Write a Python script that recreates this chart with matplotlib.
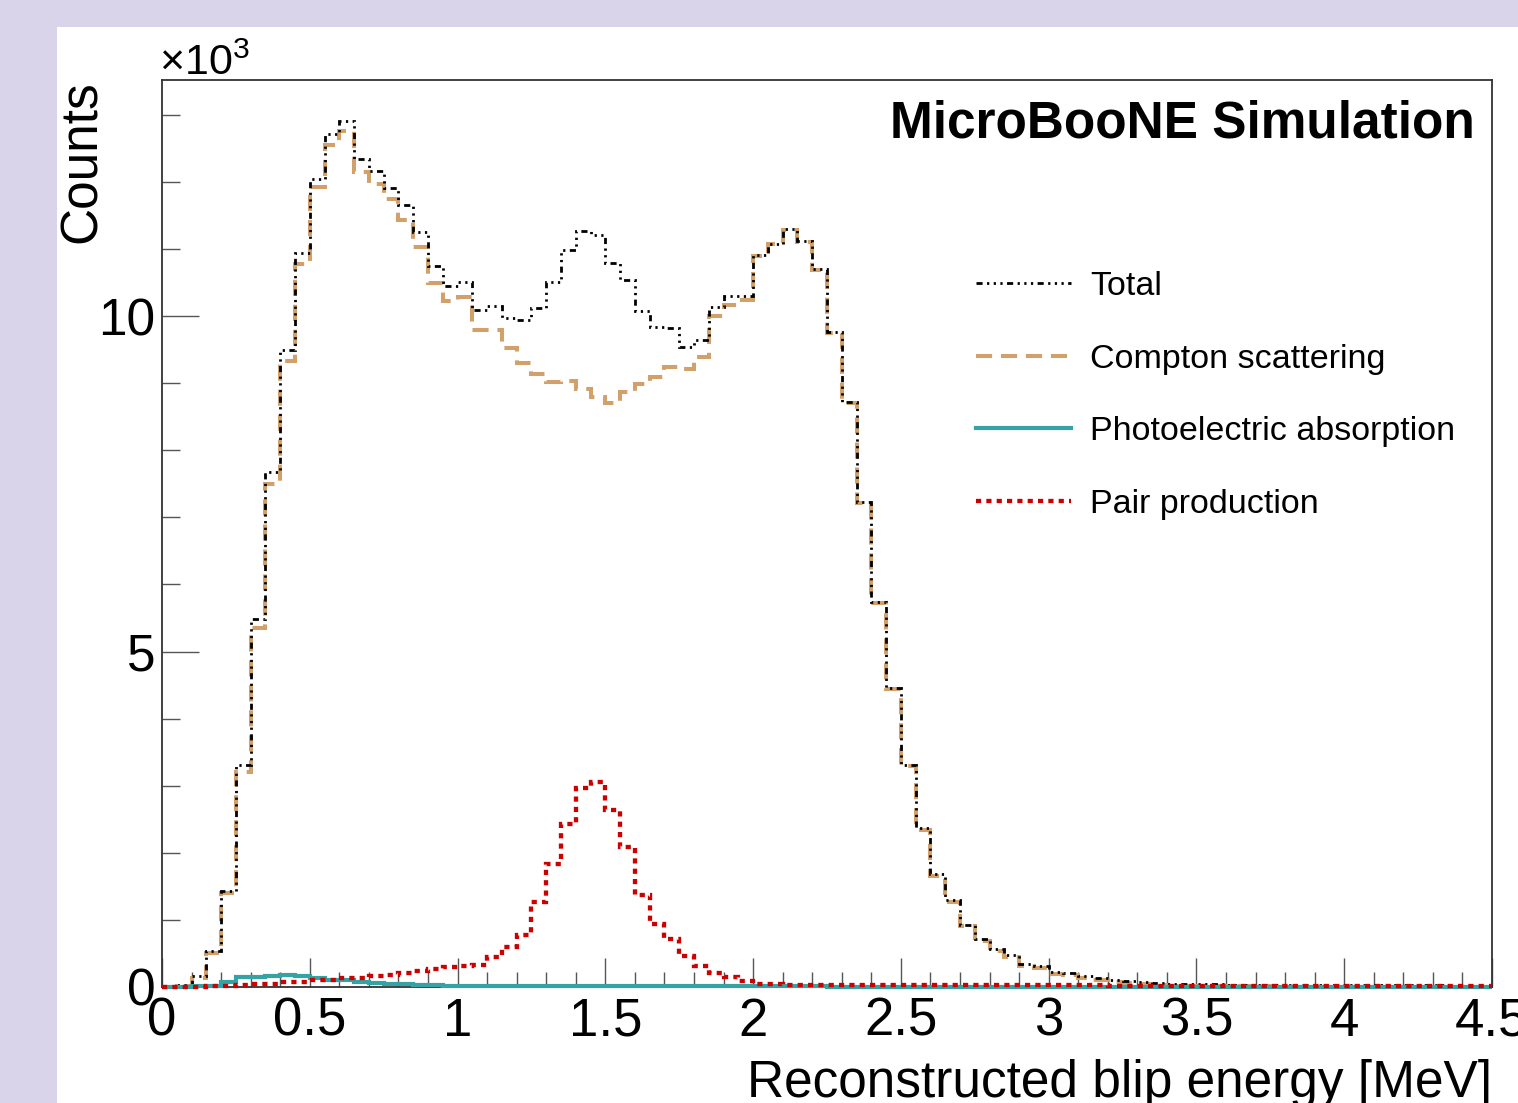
import numpy as np
import matplotlib
matplotlib.use("Agg")
import matplotlib.pyplot as plt
from matplotlib.patches import Rectangle
from matplotlib.lines import Line2D
from matplotlib.ticker import MultipleLocator, FixedLocator, FixedFormatter

plt.rcParams['font.family'] = ['Liberation Sans', 'DejaVu Sans']
plt.rcParams['mathtext.fontset'] = 'custom'
plt.rcParams['mathtext.rm'] = 'Liberation Sans'
plt.rcParams['mathtext.it'] = 'Liberation Sans:italic'
plt.rcParams['mathtext.bf'] = 'Liberation Sans:bold'

# ---------------- data (counts in units of 10^3, 0.05 MeV bins from 0 to 4.5 MeV) -------------
bin_edges = np.linspace(0.0, 4.5, 91)

total = [
    0.00, 0.03, 0.16, 0.53, 1.43, 3.31, 5.49, 7.67, 9.49, 10.94,
    12.05, 12.72, 12.91, 12.34, 12.16, 11.91, 11.65, 11.25, 10.74, 10.45,
    10.51, 10.09, 10.15, 9.97, 9.94, 10.12, 10.51, 10.98, 11.27, 11.21,
    10.79, 10.54, 10.07, 9.84, 9.82, 9.54, 9.65, 10.14, 10.30, 10.30,
    10.91, 11.08, 11.30, 11.12, 10.70, 9.76, 8.72, 7.23, 5.74, 4.46,
    3.31, 2.37, 1.69, 1.29, 0.93, 0.72, 0.57, 0.47, 0.34, 0.31,
    0.23, 0.21, 0.17, 0.14, 0.11, 0.085, 0.07, 0.06, 0.05, 0.045,
    0.04, 0.04, 0.035, 0.035, 0.033, 0.032, 0.03, 0.03, 0.03, 0.028,
    0.028, 0.027, 0.026, 0.025, 0.025, 0.024, 0.023, 0.022, 0.022, 0.021,
]

compton = [
    0.00, 0.02, 0.13, 0.50, 1.40, 3.20, 5.35, 7.50, 9.33, 10.77,
    11.93, 12.55, 12.76, 12.15, 11.97, 11.74, 11.43, 11.03, 10.50, 10.22,
    10.28, 9.80, 9.79, 9.52, 9.30, 9.14, 9.02, 9.04, 8.92, 8.79,
    8.70, 8.87, 8.99, 9.10, 9.24, 9.21, 9.39, 10.00, 10.16, 10.24,
    10.89, 11.08, 11.29, 11.11, 10.69, 9.75, 8.71, 7.21, 5.72, 4.44,
    3.29, 2.34, 1.66, 1.27, 0.91, 0.69, 0.54, 0.44, 0.31, 0.28,
    0.20, 0.18, 0.14, 0.11, 0.08, 0.055, 0.04, 0.03, 0.02, 0.018,
    0.015, 0.012, 0.010, 0.010, 0.008, 0.008, 0.006, 0.006, 0.005, 0.005,
    0.004, 0.004, 0.003, 0.003, 0.003, 0.002, 0.002, 0.002, 0.002, 0.001,
]

photoelectric = [
    0.00, 0.005, 0.01, 0.02, 0.08, 0.15, 0.15, 0.17, 0.18, 0.17,
    0.13, 0.11, 0.10, 0.08, 0.06, 0.05, 0.04, 0.03, 0.03, 0.02,
    0.02, 0.015, 0.015, 0.015, 0.012, 0.012, 0.012, 0.010, 0.010, 0.010,
    0.010, 0.010, 0.010, 0.010, 0.010, 0.010, 0.010, 0.010, 0.010, 0.010,
    0.010, 0.008, 0.008, 0.008, 0.008, 0.007, 0.006, 0.005, 0.005, 0.004,
    0.004, 0.003, 0.003, 0.003, 0.002, 0.002, 0.002, 0.002, 0.001, 0.001,
    0.001, 0.001, 0.001, 0.001, 0.001, 0.000, 0.000, 0.000, 0.000, 0.000,
    0.000, 0.000, 0.000, 0.000, 0.000, 0.000, 0.000, 0.000, 0.000, 0.000,
    0.000, 0.000, 0.000, 0.000, 0.000, 0.000, 0.000, 0.000, 0.000, 0.000,
]

pair_production = [
    0.00, 0.00, 0.005, 0.01, 0.015, 0.03, 0.04, 0.05, 0.07, 0.08,
    0.10, 0.11, 0.13, 0.14, 0.16, 0.18, 0.21, 0.24, 0.27, 0.30,
    0.32, 0.33, 0.45, 0.60, 0.78, 1.27, 1.84, 2.43, 2.97, 3.06,
    2.64, 2.08, 1.37, 0.94, 0.71, 0.46, 0.32, 0.21, 0.15, 0.09,
    0.05, 0.04, 0.035, 0.03, 0.03, 0.03, 0.03, 0.03, 0.03, 0.03,
    0.03, 0.028, 0.028, 0.027, 0.027, 0.026, 0.026, 0.025, 0.025, 0.025,
    0.024, 0.024, 0.023, 0.023, 0.022, 0.022, 0.022, 0.021, 0.021, 0.021,
    0.020, 0.020, 0.020, 0.020, 0.020, 0.020, 0.020, 0.020, 0.020, 0.020,
    0.020, 0.020, 0.020, 0.020, 0.020, 0.020, 0.020, 0.020, 0.020, 0.020,
]

series_labels = ["Total", "Compton scattering", "Photoelectric absorption", "Pair production"]
x_tick_values = [0, 0.5, 1, 1.5, 2, 2.5, 3, 3.5, 4, 4.5]
x_tick_labels = ["0", "0.5", "1", "1.5", "2", "2.5", "3", "3.5", "4", "4.5"]
y_tick_values = [0, 5, 10]
y_tick_labels = ["0", "5", "10"]

# ---------------- figure ----------------
W, H = 1518, 1103
fig = plt.figure(figsize=(W / 100, H / 100), dpi=100)
fig.patch.set_facecolor("#dad4ea")
fig.add_artist(Rectangle((57 / W, 0), 1 - 57 / W, 1 - 27 / H, transform=fig.transFigure,
                         facecolor="white", edgecolor="none", zorder=0))

ax = fig.add_axes([162 / W, 1 - 987 / H, (1492 - 162) / W, (987 - 80) / H])
ax.set_facecolor("white")

c_tan = "#d2a06b"
c_teal = "#35a3a3"
c_red = "#cc0000"

ls_total = (0, (2.2, 1.6, 0.8, 1.6, 0.8, 1.6, 0.8, 1.6))
ls_compton = (0, (4.0, 2.2))
ls_pair = (0, (1.2, 1.2))

ax.stairs(compton, bin_edges, baseline=None, color=c_tan, lw=2.9,
          linestyle=ls_compton, zorder=3, label=series_labels[1], clip_on=False)
ax.stairs(total, bin_edges, baseline=None, color="black", lw=2.0,
          linestyle=ls_total, zorder=4, label=series_labels[0], clip_on=False)
ax.stairs(photoelectric, bin_edges, baseline=None, color=c_teal, lw=3.0,
          linestyle="-", zorder=5, label=series_labels[2], clip_on=False)
ax.stairs(pair_production, bin_edges, baseline=None, color=c_red, lw=3.1,
          linestyle=ls_pair, zorder=6, label=series_labels[3], clip_on=False)

ax.set_xlim(0, 4.5)
ax.set_ylim(0, 13.52)

for s in ax.spines.values():
    s.set_color("#333333")
    s.set_linewidth(1.3)

ax.xaxis.set_major_locator(FixedLocator(x_tick_values))
ax.xaxis.set_major_formatter(FixedFormatter(x_tick_labels))
ax.xaxis.set_minor_locator(MultipleLocator(0.1))
ax.yaxis.set_major_locator(FixedLocator(y_tick_values))
ax.yaxis.set_major_formatter(FixedFormatter(y_tick_labels))
ax.yaxis.set_minor_locator(MultipleLocator(1))

ax.tick_params(axis="x", which="major", direction="in", length=21, width=1.0, color="#555555",
               labelsize=38, pad=7, top=False)
ax.tick_params(axis="x", which="minor", direction="in", length=10.8, width=1.0, color="#555555", top=False)
ax.tick_params(axis="y", which="major", direction="in", length=26.5, width=1.0, color="#555555",
               labelsize=37, pad=4.5, right=False)
ax.tick_params(axis="y", which="minor", direction="in", length=13, width=1.0, color="#555555", right=False)

ax.set_xlabel("Reconstructed blip energy [MeV]", fontsize=37, loc="right", labelpad=9)
ax.set_ylabel("Counts", fontsize=37, loc="top", labelpad=-6)

ax.text(-0.002, 1.0055, r"$\times$10$^{3}$", transform=ax.transAxes, fontsize=31,
        ha="left", va="baseline")

ax.text(0.987, 0.937, "MicroBooNE Simulation", transform=ax.transAxes, fontsize=37,
        fontweight="bold", ha="right", va="baseline")

leg_handles = [
    Line2D([], [], color="black", lw=2.0, linestyle=ls_total),
    Line2D([], [], color=c_tan, lw=2.9, linestyle=ls_compton),
    Line2D([], [], color=c_teal, lw=3.0, linestyle="-"),
    Line2D([], [], color=c_red, lw=3.1, linestyle=ls_pair),
]
fig.legend(leg_handles, series_labels, loc="upper left",
           bbox_to_anchor=(976 / W, 1 - 271 / H), bbox_transform=fig.transFigure,
           frameon=False, fontsize=24.5, handlelength=2.8, handletextpad=0.55,
           labelspacing=1.22, borderpad=0, borderaxespad=0)

fig.savefig("out.png", dpi=100, facecolor=fig.get_facecolor())
